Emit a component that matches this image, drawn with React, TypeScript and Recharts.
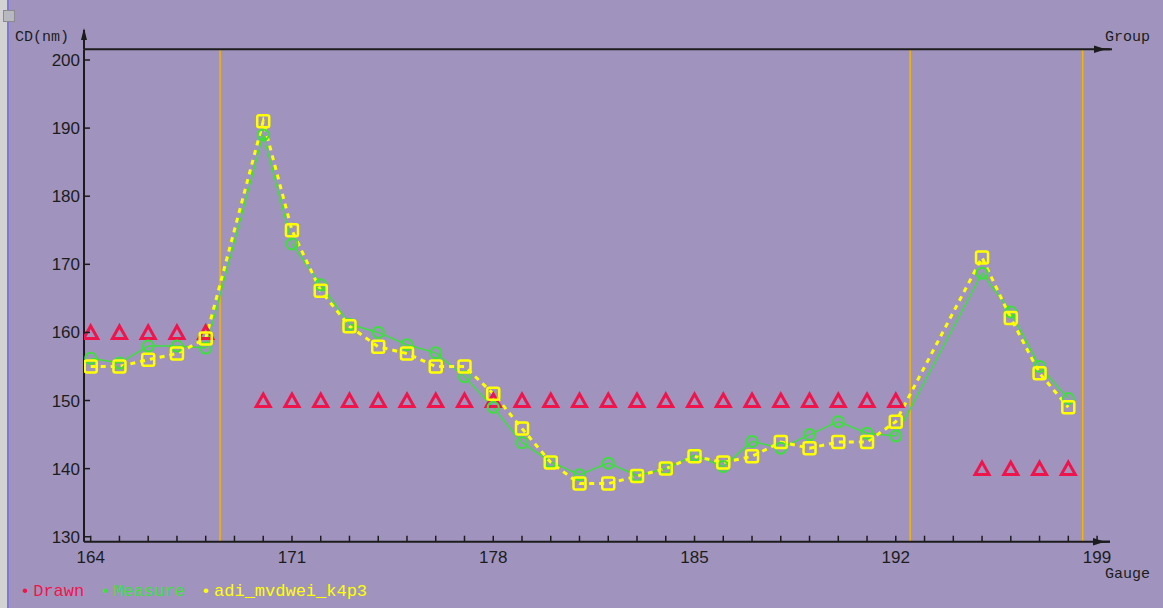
import React from 'react';
import {
  ComposedChart,
  Line,
  XAxis,
  YAxis,
  ReferenceLine,
} from 'recharts';

// gauges per group (169, 193, 194 have no measurements)
const gauges = [
  164, 165, 166, 167, 168,
  170, 171, 172, 173, 174, 175, 176, 177, 178, 179, 180, 181, 182, 183, 184, 185, 186, 187, 188, 189, 190, 191, 192,
  195, 196, 197, 198,
];
const drawn = [
  160, 160, 160, 160, 160,
  150, 150, 150, 150, 150, 150, 150, 150, 150, 150, 150, 150, 150, 150, 150, 150, 150, 150, 150, 150, 150, 150, 150,
  140, 140, 140, 140,
];
const measure = [
  156.2, 155.5, 158, 158, 157.7,
  189, 173, 167, 161.2, 160, 158.2, 157, 153.5, 149, 143.8, 141, 139.1, 140.8, 139, 140, 142, 140.3, 144, 143, 145, 146.9, 145.2, 144.8,
  168.7, 163, 155, 150.3,
];
const adi = [
  155, 155, 156, 156.9, 159.1,
  191, 175, 166.1, 160.9, 157.9, 156.9, 155, 155, 151, 145.9, 140.9, 137.8, 137.8, 138.9, 140, 141.8, 140.9, 141.8, 143.9, 143, 143.9, 143.9, 146.9,
  171, 162.1, 154, 149,
];

const groupLabels = ['10', '11', '12'];
const groupBounds = [168.5, 192.5, 198.5];
const gaugeTicks = Array.from({ length: 36 }, (_, i) => 164 + i);
const gaugeLabels = [164, 171, 178, 185, 192, 199];
const cdTicks = [130, 140, 150, 160, 170, 180, 190, 200];

const X_MIN = 163.767;
const X_MAX = 199.45;
const groupCenters = groupBounds.map((b, i) => ((i === 0 ? X_MIN : groupBounds[i - 1]) + b) / 2);

const rows = gauges.map((g, i) => ({ gauge: g, drawn: drawn[i], measure: measure[i], adi: adi[i] }));

const BG = '#a094be';
const RED = '#f0144c';
const GREEN = '#3ce03c';
const YELLOW = '#ffff00';
const ORANGE = '#f5b400';
const AXIS = '#1c1c1c';
const numFont = '"Liberation Sans", Arial, sans-serif';
const monoFont = '"Liberation Mono", "DejaVu Sans Mono", monospace';

const Triangle = (p: any) => {
  const { cx, cy } = p;
  if (cx == null || cy == null) return null;
  return (
    <polygon
      key={p.key}
      points={`${cx},${cy - 6.5} ${cx + 7},${cy + 6} ${cx - 7},${cy + 6}`}
      fill="none"
      stroke={RED}
      strokeWidth={3}
    />
  );
};

const Circle = (p: any) => {
  const { cx, cy } = p;
  if (cx == null || cy == null) return null;
  return <circle key={p.key} cx={cx} cy={cy} r={5.5} fill="none" stroke={GREEN} strokeWidth={2} />;
};

const Square = (p: any) => {
  const { cx, cy } = p;
  if (cx == null || cy == null) return null;
  return (
    <rect key={p.key} x={cx - 6} y={cy - 6} width={12} height={12} rx={2} fill="none" stroke={YELLOW} strokeWidth={2.5} />
  );
};

const GaugeTick = (p: any) => {
  const { x, y, payload } = p;
  const show = gaugeLabels.includes(payload.value);
  return (
    <g>
      <line x1={x} y1={y} x2={x} y2={y - 6} stroke={AXIS} strokeWidth={1.5} />
      {show && (
        <text x={x} y={y + 21} textAnchor="middle" fontFamily={numFont} fontSize={17} fill={AXIS}>
          {payload.value}
        </text>
      )}
    </g>
  );
};

const GroupTick = (p: any) => {
  const { x, y, index } = p;
  return (
    <text x={x} y={y - 8} textAnchor="middle" fontFamily={numFont} fontSize={17} fill={AXIS}>
      {groupLabels[index]}
    </text>
  );
};

const CdTick = (p: any) => {
  const { x, y, payload } = p;
  return (
    <g>
      <line x1={x} y1={y} x2={x + 6} y2={y} stroke={AXIS} strokeWidth={1.5} />
      <text x={x - 4} y={y + 6} textAnchor="end" fontFamily={numFont} fontSize={17} fill={AXIS}>
        {payload.value}
      </text>
    </g>
  );
};

export default function App() {
  return (
    <div style={{ position: 'fixed', left: 0, top: 0, width: 1163, height: 608, background: BG, overflow: 'hidden' }}>
      {/* left window strip */}
      <div style={{ position: 'absolute', left: 0, top: 0, width: 7, height: 608, background: '#d2d2d2' }} />
      <div style={{ position: 'absolute', left: 7, top: 0, width: 2, height: 608, background: '#7b78d8' }} />
      <div
        style={{
          position: 'absolute', left: 3, top: 10, width: 12, height: 12, background: '#b8b8c0',
          border: '1px solid #8a8a90', boxSizing: 'border-box',
        }}
      />

      <ComposedChart
        width={1163}
        height={608}
        data={rows}
        margin={{ top: 29.3, right: 53, bottom: 36.3, left: 24 }}
        style={{ position: 'absolute', left: 0, top: 0 }}
      >
        <XAxis
          xAxisId="bottom"
          dataKey="gauge"
          type="number"
          domain={[X_MIN, X_MAX]}
          ticks={gaugeTicks}
          interval={0}
          allowDataOverflow
          height={30}
          tickSize={0}
          tickMargin={0}
          tickLine={false}
          axisLine={{ stroke: AXIS, strokeWidth: 2 }}
          tick={<GaugeTick />}
        />
        <XAxis
          xAxisId="top"
          orientation="top"
          type="number"
          domain={[X_MIN, X_MAX]}
          ticks={groupCenters}
          interval={0}
          allowDataOverflow
          height={20}
          tickSize={0}
          tickMargin={0}
          tickLine={false}
          axisLine={{ stroke: AXIS, strokeWidth: 2 }}
          tick={<GroupTick />}
        />
        <YAxis
          type="number"
          domain={[129.27, 201.57]}
          ticks={cdTicks}
          interval={0}
          allowDataOverflow
          width={60}
          tickSize={0}
          tickMargin={0}
          tickLine={false}
          axisLine={{ stroke: AXIS, strokeWidth: 2 }}
          tick={<CdTick />}
        />
        {groupBounds.map((b) => (
          <ReferenceLine key={b} x={b} xAxisId="bottom" stroke={ORANGE} strokeWidth={1.5} />
        ))}
        <Line
          xAxisId="bottom"
          dataKey="drawn"
          stroke="none"
          dot={Triangle}
          activeDot={false}
          isAnimationActive={false}
        />
        <Line
          xAxisId="bottom"
          dataKey="measure"
          type="linear"
          stroke={GREEN}
          strokeWidth={1.5}
          dot={Circle}
          activeDot={false}
          isAnimationActive={false}
        />
        <Line
          xAxisId="bottom"
          dataKey="adi"
          type="linear"
          stroke={YELLOW}
          strokeWidth={3}
          strokeDasharray="5 5"
          dot={Square}
          activeDot={false}
          isAnimationActive={false}
        />
      </ComposedChart>

      {/* axis arrows and titles */}
      <svg width={1163} height={608} style={{ position: 'absolute', left: 0, top: 0, pointerEvents: 'none' }}>
        <line x1={84} y1={49} x2={84} y2={30} stroke={AXIS} strokeWidth={2} />
        <polygon points="84,28 81,40 87,40" fill={AXIS} />
        <line x1={1095} y1={49.3} x2={1112} y2={49.3} stroke={AXIS} strokeWidth={2} />
        <polygon points="1106,49.3 1094,45.5 1094,53" fill={AXIS} />
        <line x1={1095} y1={541.7} x2={1110} y2={541.7} stroke={AXIS} strokeWidth={2} />
        <polygon points="1105,541.7 1093,538 1093,545.5" fill={AXIS} />
        <text x={15} y={41} fontFamily={monoFont} fontSize={15} fill={AXIS}>CD(nm)</text>
        <text x={1105} y={41} fontFamily={monoFont} fontSize={15} fill={AXIS}>Group</text>
        <text x={1105} y={578} fontFamily={monoFont} fontSize={15} fill={AXIS}>Gauge</text>
      </svg>

      {/* legend */}
      <div
        style={{
          position: 'absolute', left: 20, top: 582, display: 'flex', alignItems: 'center',
          fontFamily: monoFont, fontSize: 17, lineHeight: '20px',
        }}
      >
        <span style={{ color: RED }}>{'\u2022'}</span>
        <span style={{ color: RED, marginLeft: 3 }}>Drawn</span>
        <span style={{ color: GREEN, marginLeft: 16 }}>{'\u2022'}</span>
        <span style={{ color: GREEN, marginLeft: 3 }}>Measure</span>
        <span style={{ color: YELLOW, marginLeft: 16 }}>{'\u2022'}</span>
        <span style={{ color: YELLOW, marginLeft: 3 }}>adi_mvdwei_k4p3</span>
      </div>
    </div>
  );
}
